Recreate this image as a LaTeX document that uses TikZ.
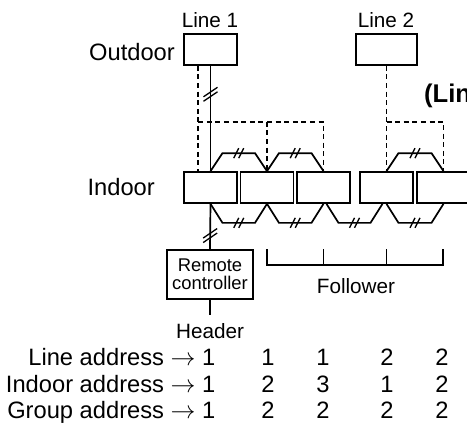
\documentclass[tikz,border=0pt]{standalone}
\usepackage{fontspec}
\setmainfont{Liberation Sans}
\usetikzlibrary{
  calc
}
\tikzset{
  unitbox/.style={draw, line width=1.7pt, minimum width=53pt, minimum height=31pt, inner sep=0pt},
  remotebox/.style={draw, line width=1.7pt, minimum width=86pt, minimum height=49pt, inner sep=0pt,
    font=\fontsize{18.4}{18}\selectfont, align=center},
  wire/.style={line width=1.7pt},
  ctrlwire/.style={line width=1.7pt, dash pattern=on 5pt off 3.6pt},
  cutline/.style={line width=1.3pt},
  lbl/.style={font=\fontsize{20.7}{24}\selectfont, inner sep=0pt, anchor=base},
  biglbl/.style={font=\fontsize{23.7}{27}\selectfont, inner sep=0pt, anchor=base},
  hcut/.pic={
    \draw[cutline] (-5,5) -- (0,-5);
    \draw[cutline] (0,5) -- (5,-5);
  },
  vcut/.pic={
    \draw[cutline] (-7,2.5) -- (7,-7);
    \draw[cutline] (-7,7) -- (7,-2.5);
  }
}
\begin{document}
\begin{tikzpicture}[x=1pt,y=-1pt]
  \useasboundingbox (0,0) rectangle (467,424);
  \clip (0,0) rectangle (467,424);
  % units
  \node[unitbox, minimum width=53pt] (outdoorA) at (210.5,49.5) {};
  \node[unitbox, minimum width=61pt] (outdoorB) at (386.5,49.5) {};
  \foreach \name/\xpos in {indoorA/210.5, indoorB/267, indoorC/323.5, indoorD/386.5, indoorE/443.5}{
    \node[unitbox] (\name) at (\xpos,187.5) {};
  }
  \node[remotebox] (remote) at (210,274.5) {Remote\\controller};
  % labels
  \node[lbl] (lineA) at (210,27) {Line 1};
  \node[lbl] (lineB) at (386,27) {Line 2};
  \node[biglbl, anchor=base east] (outdoor) at (175,60) {Outdoor};
  \node[biglbl, anchor=base east] (indoor) at (155,195) {Indoor};
  \node[lbl] (follower) at (356,293) {Follower};
  \node[lbl] (header) at (210,338) {Header};
  \node[font=\fontsize{25.6}{30}\selectfont\bfseries, inner sep=0pt, anchor=base west] (lineNote) at (424,102) {(Lin};
  % power wiring
  \draw[wire] (outdoorA.south) -- (indoorA.north) pic[pos=.27] {vcut};
  \draw[wire] (indoorA.south) -- (remote.north) pic[pos=.7] {vcut};
  \coordinate (stub) at ($(remote.south)+(0,15)$);
  \draw[wire] (remote.south) -- (stub);
  \foreach \from/\to in {indoorA/indoorB, indoorB/indoorC, indoorD/indoorE}{
    \draw[wire] (\from.north) -- ++(12,-18) -- ($(\to.north)+(-12,-18)$) pic[midway] {hcut} -- (\to.north);
  }
  \foreach \from/\to in {indoorA/indoorB, indoorB/indoorC, indoorD/indoorE}{
    \draw[wire] (\from.south) -- ++(12,19) -- ($(\to.south)+(-12,19)$) pic[midway] {hcut} -- (\to.south);
  }
  \draw[wire] ($(indoorC.south)+(3,0)$) -- ++(12,19) -- ($(indoorD.south)+(-16,19)$) pic[midway] {hcut} -- ($(indoorD.south)+(-4,0)$);
  % control wiring
  \coordinate (dropA) at ($(outdoorA.south west)+(15,0)$);
  \coordinate (busA) at ($(dropA)+(0,56)$);
  \draw[ctrlwire] (dropA) -- (dropA |- indoorA.north);
  \draw[ctrlwire] (busA) -| (indoorC.north);
  \draw[ctrlwire] (indoorB.north |- busA) -- (indoorB.north);
  \coordinate (busB) at ($(outdoorB.south)+(0,56)$);
  \draw[ctrlwire] (outdoorB.south) -- (indoorD.north);
  \draw[ctrlwire] (busB) -| (indoorE.north);
  % follower bracket
  \coordinate (brkL) at (267,249);
  \coordinate (brkR) at (443,249);
  \draw[wire] (brkL) -- ++(0,16) -- ($(brkR)+(0,16)$) -- (brkR);
  \foreach \name in {indoorC, indoorD}{
    \coordinate (tick) at (\name.south |- brkL);
    \draw[wire] (tick) -- ++(0,16);
  }
  % address table
  \foreach \ypos/\title/\a/\b/\c/\d in {
    365/Line address/1/1/2/2,
    392/Indoor address/2/3/1/2,
    418/Group address/2/2/2/2}{
    \node[biglbl, anchor=base east] at (215.5,\ypos) {\title{} $\rightarrow$ 1};
    \node[biglbl] at (268,\ypos) {\a};
    \node[biglbl] at (323,\ypos) {\b};
    \node[biglbl] at (387,\ypos) {\c};
    \node[biglbl] at (442,\ypos) {\d};
  }
\end{tikzpicture}
\end{document}
